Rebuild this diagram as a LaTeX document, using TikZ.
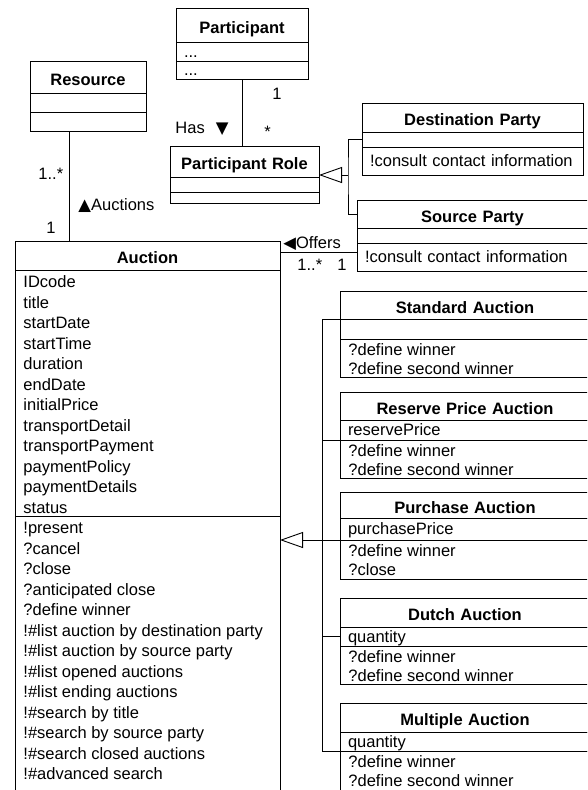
\documentclass[tikz,border=0pt]{standalone}
\usepackage{fontspec}
\setmainfont{Liberation Sans}
\newfontfamily\symfont{DejaVu Sans}
\usetikzlibrary{arrows.meta}

\begin{document}
\begin{tikzpicture}[x=1pt, y=-1pt, line width=0.9pt,
    row/.style={draw, anchor=north west, inner xsep=8pt, inner ysep=0pt, outer sep=0pt,
      align=left, text height=11pt, text depth=0pt, font=\fontsize{16.5}{20.5}\selectfont},
    title/.style={row, align=center, text height=16pt, font=\fontsize{16.5}{20.5}\selectfont\bfseries},
    lines/.style={anchor=north west, align=left, inner xsep=8pt, inner ysep=3pt, font=\fontsize{16.5}{20.5}\selectfont},
    slines/.style={lines, font=\fontsize{16.5}{19}\selectfont},
    lbl/.style={anchor=base west, inner sep=0pt, font=\fontsize{16.5}{20.5}\selectfont},
    gen/.style={-{Triangle[open, length=23pt, width=16pt]}}]
    \useasboundingbox (0,0) rectangle (587,790);
    \clip (0,0) rectangle (587,790);

    % participant and its roles
    \node[title, text width=116pt, minimum height=34pt] (par-name) at (176,8) {Participant};
    \node[row, text width=116pt, minimum height=19pt] (par-attr) at (par-name.south west) {...};
    \node[row, text width=116pt, minimum height=18pt] (par-ops) at (par-attr.south west) {...};

    \node[title, text width=133pt, minimum height=31pt] (role-name) at (170,146) {Participant Role};
    \node[row, text width=133pt, minimum height=15pt] (role-attr) at (role-name.south west) {};
    \node[row, text width=133pt, minimum height=11pt] (role-ops) at (role-attr.south west) {};

    \node[title, text width=205pt, minimum height=29pt] (dest-name) at (362,103) {Destination Party};
    \node[row, text width=205pt, minimum height=15pt] (dest-attr) at (dest-name.south west) {};
    \node[row, text width=205pt, minimum height=28pt] (dest-ops) at (dest-attr.south west) {!consult contact information};

    \node[title, text width=215pt, minimum height=28pt] (src-name) at (357,200) {Source Party};
    \node[row, text width=215pt, minimum height=15pt] (src-attr) at (src-name.south west) {};
    \node[row, text width=215pt, minimum height=28pt] (src-ops) at (src-attr.south west) {!consult contact information};

    % resource
    \node[title, text width=100pt, minimum height=32pt] (res-name) at (30,61) {Resource};
    \node[row, text width=100pt, minimum height=19pt] (res-attr) at (res-name.south west) {};
    \node[row, text width=100pt, minimum height=19pt] (res-ops) at (res-attr.south west) {};

    % auction
    \node[title, text width=249pt, minimum height=29pt] (auc-name) at (15,241) {Auction};
    \node[row, text width=249pt, minimum height=246pt] (auc-attr) at (auc-name.south west) {};
    \node[row, text width=249pt, minimum height=290pt] (auc-ops) at (auc-attr.south west) {};
    \node[lines] (auc-attr-txt) at (auc-attr.north west) {\strut IDcode\\title\\startDate\\startTime\\duration\\endDate\\initialPrice\\transportDetail\\transportPayment\\paymentPolicy\\paymentDetails\\status};
    \node[lines] (auc-ops-txt) at (auc-ops.north west) {\strut!present\\?cancel\\?close\\?anticipated close\\?define winner\\!\#list auction by destination party\\!\#list auction by source party\\!\#list opened auctions\\!\#list ending auctions\\!\#search by title\\!\#search by source party\\!\#search closed auctions\\!\#advanced search};

    % kinds of auction
    \node[title, text width=234pt, minimum height=28pt] (std-name) at (340,291) {Standard Auction};
    \node[row, text width=234pt, minimum height=20pt] (std-attr) at (std-name.south west) {};
    \node[row, text width=234pt, minimum height=38pt] (std-ops) at (std-attr.south west) {};
    \node[slines] (std-ops-txt) at (std-ops.north west) {\strut?define winner\\?define second winner};

    \node[title, text width=234pt, minimum height=28pt] (rsv-name) at (340,392) {Reserve Price Auction};
    \node[row, text width=234pt, minimum height=20pt] (rsv-attr) at (rsv-name.south west) {reservePrice};
    \node[row, text width=234pt, minimum height=38pt] (rsv-ops) at (rsv-attr.south west) {};
    \node[slines] (rsv-ops-txt) at (rsv-ops.north west) {\strut?define winner\\?define second winner};

    \node[title, text width=234pt, minimum height=26pt] (pur-name) at (340,492) {Purchase Auction};
    \node[row, text width=234pt, minimum height=22pt] (pur-attr) at (pur-name.south west) {purchasePrice};
    \node[row, text width=234pt, minimum height=39pt] (pur-ops) at (pur-attr.south west) {};
    \node[slines] (pur-ops-txt) at (pur-ops.north west) {\strut?define winner\\?close};

    \node[title, text width=234pt, minimum height=29pt] (dut-name) at (340,598) {Dutch Auction};
    \node[row, text width=234pt, minimum height=19pt] (dut-attr) at (dut-name.south west) {quantity};
    \node[row, text width=234pt, minimum height=38pt] (dut-ops) at (dut-attr.south west) {};
    \node[slines] (dut-ops-txt) at (dut-ops.north west) {\strut?define winner\\?define second winner};

    \node[title, text width=234pt, minimum height=29pt] (mul-name) at (340,703) {Multiple Auction};
    \node[row, text width=234pt, minimum height=19pt] (mul-attr) at (mul-name.south west) {quantity};
    \node[row, text width=234pt, minimum height=60pt] (mul-ops) at (mul-attr.south west) {};
    \node[slines] (mul-ops-txt) at (mul-ops.north west) {\strut?define winner\\?define second winner};

    % associations
    \draw ([xshift=39pt]res-ops.south west) -- ([xshift=39pt]res-ops.south west |- auc-name.north);
    \node[lbl] (res-mult) at (38,179) {1..*};
    \node[lbl] (auctions-lbl) at (78,210) {{\symfont ▲}Auctions};
    \node[lbl] (auc-mult) at (46,233) {1};

    \draw (par-ops.south) -- (par-ops.south |- role-name.north);
    \node[lbl] (par-mult) at (272,99) {1};
    \node[lbl] (has-lbl) at (175,133) {Has\hspace{11pt}{\symfont ▼}};
    \node[lbl] (role-mult) at (264,137) {*};

    \draw ([yshift=5pt]src-ops.west) -- ([yshift=5pt]src-ops.west -| auc-name.east);
    \node[lbl] (offers-lbl) at (283,248) {{\symfont ◀}Offers};
    \node[lbl] (offer-mult) at (297,270) {1..*};
    \node[lbl] (src-mult) at (337,270) {1};

    % generalisations
    \coordinate (partyjoin) at (348,175);
    \draw (dest-attr.west) -| (partyjoin) |- (src-name.west);
    \draw[gen] (partyjoin) -- (partyjoin -| role-name.east);

    \draw (std-name.south west) -- ++(-18,0) -- ([xshift=-18pt]mul-attr.south west) -- (mul-attr.south west);
    \draw ([xshift=-18pt]rsv-attr.south west) -- (rsv-attr.south west);
    \draw ([xshift=-18pt]dut-attr.west) -- (dut-attr.west);
    \draw[gen] (pur-attr.south west) -- (pur-attr.south west -| auc-ops.east);
\end{tikzpicture}
\end{document}
